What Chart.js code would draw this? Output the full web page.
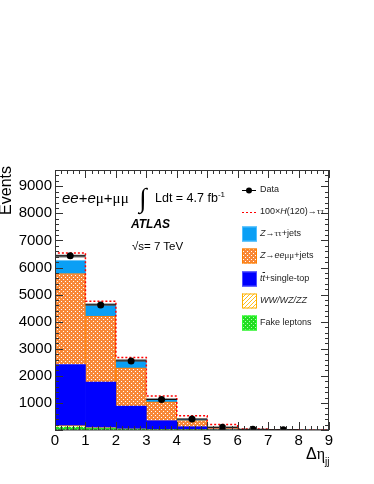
<!DOCTYPE html>
<html>
<head>
<meta charset="utf-8">
<script src="https://cdn.jsdelivr.net/npm/chart.js@4.4.0/dist/chart.umd.min.js"></script>
<style>
body { margin: 0; background: #fff; }
#wrap { position: relative; width: 374px; height: 484px; font-family: "Liberation Sans", Arial, sans-serif; color: #000; }
.t { position: absolute; line-height: 1; white-space: nowrap; }
.g { font-family: "Liberation Serif", serif; }
.leg { position: absolute; left: 260px; font-size: 9px; line-height: 1; color: #222; white-space: nowrap; }
</style>
</head>
<body>
<div id="wrap">
<canvas id="myChart" width="374" height="484"></canvas>

<div class="t" style="left:-2px; top:166px; font-size:16px; writing-mode:vertical-rl; transform:rotate(180deg);">Events</div>
<div class="t" style="left:62px; top:190px; font-size:15px;"><i>ee</i>+<i>e</i><span class="g">μ</span>+<span class="g">μμ</span></div>
<div class="t g" style="left:139px; top:185px; font-size:27px;">∫</div>
<div class="t" style="left:155px; top:191px; font-size:12.5px;">Ldt = 4.7 fb<sup style="font-size:8px; vertical-align:5px;">-1</sup></div>
<div class="t" style="left:131px; top:218px; font-size:12px; font-weight:bold; font-style:italic;">ATLAS</div>
<div class="t" style="left:132px; top:241px; font-size:11.5px;">√s= 7 TeV</div>
<div class="t" style="left:306px; top:446px; font-size:16px;">Δ<span class="g">η</span><sub style="font-size:10px; vertical-align:-6px;">jj</sub></div>

<div class="leg" style="top:185px">Data</div>
<div class="leg" style="top:207px">100×<i>H</i>(120)→<span class="g">ττ</span></div>
<div class="leg" style="top:229px"><i>Z</i>→<span class="g">ττ</span>+jets</div>
<div class="leg" style="top:251px"><i>Z</i>→<i>ee</i><span class="g">μμ</span>+jets</div>
<div class="leg" style="top:274px"><i>t<span style="text-decoration:overline">t</span></i>+single-top</div>
<div class="leg" style="top:296px"><i>WW/WZ/ZZ</i></div>
<div class="leg" style="top:318px">Fake leptons</div>
</div>

<script>
// bins in delta eta_jj, lower edges
const binLow = [0, 1, 2, 3, 4, 5, 6, 7, 8];
const xTickValues = [0, 1, 2, 3, 4, 5, 6, 7, 8, 9];
const yTickValues = [1000, 2000, 3000, 4000, 5000, 6000, 7000, 8000, 9000];

const dataEvents = [6430, 4620, 2550, 1130, 405, 100, 25, 10, null];
const fakeLeptons = [100, 60, 30, 15, 8, 3, 1, 0, 0];
const dibosons = [60, 30, 15, 8, 4, 2, 1, 0, 0];
const topQuark = [2260, 1680, 835, 320, 108, 25, 3, 2, 0];
const zLL = [3360, 2437, 1420, 697, 230, 60, 10, 3, 1];
const zTauTau = [470, 368, 220, 60, 20, 5, 3, 1, 0];
const mcTotal = [6420, 4630, 2575, 1135, 390, 105, 24, 8, 2];
const mcErr = [42, 35, 30, 25, 15, 8, 4, 2, 1];
const signal100 = [120, 120, 105, 120, 140, 95, 12, 4, 2];

function pattern(bg, fg, pts) {
    const c = document.createElement('canvas');
    c.width = 4; c.height = 4;
    const g = c.getContext('2d');
    g.fillStyle = bg; g.fillRect(0, 0, 4, 4);
    g.fillStyle = fg;
    pts.forEach(p => g.fillRect(p[0], p[1], 1, 1));
    return g.createPattern(c, 'repeat');
}
const ctx = document.querySelector('#myChart').getContext('2d');
const orangeFill = pattern('#f88838', '#ffffff', [[1, 1], [3, 3]]);
const greenFill = pattern('#22dd22', '#b0ffb0', [[1, 1], [3, 3]]);
const wwFill = pattern('#ffffff', '#ffc020', [[0, 3], [1, 2], [2, 1], [3, 0]]);

const stackTop = binLow.map((b, i) => fakeLeptons[i] + dibosons[i] + topQuark[i] + zLL[i] + zTauTau[i]);
const gap = binLow.map((b, i) => Math.max(0, mcTotal[i] - mcErr[i] - stackTop[i]));
const band = binLow.map((b, i) => 2 * mcErr[i]);

const bars = arr => binLow.map((b, i) => ({x: b + 0.5, y: arr[i]}));

// stepped outline for the signal on top of the total
const sigLine = [{x: 0, y: 0}];
binLow.forEach((b, i) => sigLine.push({x: b, y: mcTotal[i] + signal100[i]}));
sigLine.push({x: 9, y: mcTotal[8] + signal100[8]});
sigLine.push({x: 9, y: 0});

const dataPts = [];
const dataErr = [];
binLow.forEach((b, i) => {
    if (dataEvents[i] === null) return;
    dataPts.push({x: b + 0.5, y: dataEvents[i]});
    dataErr.push({x: b, y: dataEvents[i]}, {x: b + 1, y: dataEvents[i]}, {x: b + 1, y: null});
});

const frame = {
    id: 'frame',
    afterDraw(chart) {
        const {ctx, chartArea: a, scales: {x, y}} = chart;
        ctx.save();
        ctx.strokeStyle = '#333';
        ctx.lineWidth = 1;
        ctx.beginPath();
        ctx.rect(a.left + 0.5, a.top + 0.5, a.right - a.left - 1, a.bottom - a.top - 0.5);
        for (let k = 0; k <= 45; k++) {
            const px = Math.round(x.getPixelForValue(k * 0.2)) + 0.5;
            const len = k % 5 === 0 ? 8 : 4;
            ctx.moveTo(px, a.bottom); ctx.lineTo(px, a.bottom - len);
            ctx.moveTo(px, a.top); ctx.lineTo(px, a.top + len);
        }
        for (let k = 0; k <= 48; k++) {
            const py = Math.round(y.getPixelForValue(k * 200)) + 0.5;
            const len = k % 5 === 0 ? 8 : 4;
            ctx.moveTo(a.left, py); ctx.lineTo(a.left + len, py);
            ctx.moveTo(a.right, py); ctx.lineTo(a.right - len, py);
        }
        ctx.stroke();

        // legend symbols
        ctx.beginPath();
        ctx.strokeStyle = '#000';
        ctx.moveTo(242, 190.5); ctx.lineTo(256, 190.5);
        ctx.stroke();
        ctx.beginPath();
        ctx.fillStyle = '#000';
        ctx.arc(249, 190.5, 3, 0, Math.PI * 2);
        ctx.fill();
        ctx.beginPath();
        ctx.strokeStyle = '#ff0000';
        ctx.setLineDash([2, 2]);
        ctx.moveTo(242, 212.5); ctx.lineTo(256, 212.5);
        ctx.stroke();
        ctx.setLineDash([]);
        const boxes = [
            [234, '#0a9ff5', '#50bfff'],
            [256, orangeFill, '#ff8000'],
            [279, '#0000ff', '#5050ff'],
            [301, wwFill, '#ffb000'],
            [323, greenFill, '#30ff30']
        ];
        boxes.forEach(b => {
            ctx.fillStyle = b[1];
            ctx.fillRect(242, b[0] - 7.5, 15, 15);
            ctx.strokeStyle = b[2];
            ctx.strokeRect(242.5, b[0] - 7, 14, 14);
        });
        ctx.restore();
    }
};

const barOpts = {barPercentage: 1, categoryPercentage: 1, borderWidth: 0, order: 3};

let myChart = new Chart(ctx, {
    type: 'bar',
    data: {
        datasets: [
            {label: 'Fake leptons', data: bars(fakeLeptons), backgroundColor: greenFill, ...barOpts},
            {label: 'WW/WZ/ZZ', data: bars(dibosons), backgroundColor: wwFill, ...barOpts, borderWidth: 1, borderColor: '#ffb000'},
            {label: 'tt+single-top', data: bars(topQuark), backgroundColor: '#0000ff', ...barOpts},
            {label: 'Z->eemumu+jets', data: bars(zLL), backgroundColor: orangeFill, ...barOpts, borderWidth: 1, borderColor: '#ff7f00'},
            {label: 'Z->tautau+jets', data: bars(zTauTau), backgroundColor: '#0a9ff5', ...barOpts},
            {label: 'gap', data: bars(gap), backgroundColor: 'rgba(0,0,0,0)', ...barOpts},
            {label: 'MC uncertainty', data: bars(band), backgroundColor: '#8a8a8a', ...barOpts},
            {type: 'line', label: '100xH(120)->tautau', data: sigLine, yAxisID: 'y2', stepped: true, order: 2,
             borderColor: '#ff0000', borderWidth: 1.5, borderDash: [2, 2], pointRadius: 0, fill: false},
            {type: 'line', label: 'Data err', data: dataErr, yAxisID: 'y2', spanGaps: false, order: 1,
             borderColor: '#000', borderWidth: 1, pointRadius: 0, fill: false},
            {type: 'line', label: 'Data', data: dataPts, yAxisID: 'y2', showLine: false, order: 0,
             pointRadius: 3.5, pointBackgroundColor: '#000', pointBorderColor: '#000', pointBorderWidth: 0}
        ]
    },
    options: {
        responsive: false,
        animation: false,
        layout: {padding: {left: 0, right: 45, top: 170, bottom: 0}},
        plugins: {
            legend: {display: false},
            tooltip: {enabled: false}
        },
        scales: {
            x: {
                type: 'linear', min: 0, max: 9, offset: false, stacked: true,
                grid: {display: false, drawTicks: false, offset: false},
                border: {display: false},
                afterBuildTicks: s => { s.ticks = xTickValues.map(v => ({value: v})); },
                afterFit: s => { s.height = 54; },
                ticks: {color: '#000', padding: 2, maxRotation: 0, callback: v => String(v),
                        font: {family: 'Liberation Sans', size: 15}}
            },
            y: {
                min: 0, max: 9600, stacked: true,
                grid: {display: false, drawTicks: false},
                border: {display: false},
                afterBuildTicks: s => { s.ticks = yTickValues.map(v => ({value: v})); },
                afterFit: s => { s.width = 55; },
                ticks: {color: '#000', padding: 3, callback: v => String(v),
                        font: {family: 'Liberation Sans', size: 15}}
            },
            y2: {
                display: false, min: 0, max: 9600
            }
        }
    },
    plugins: [frame]
});
</script>
</body>
</html>
